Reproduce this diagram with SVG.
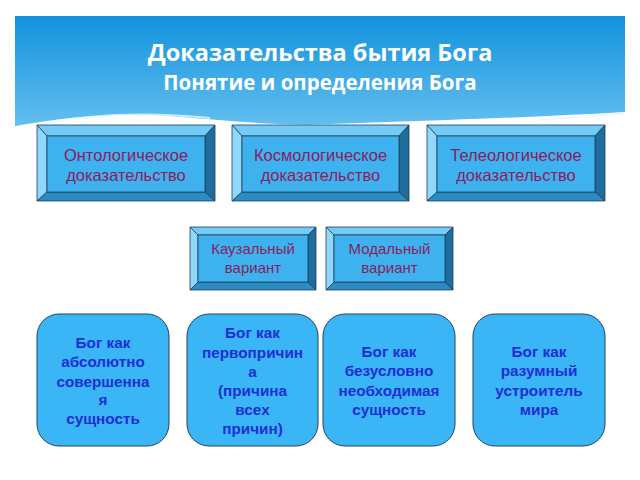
<svg xmlns="http://www.w3.org/2000/svg" width="640" height="480" viewBox="0 0 640 480">
<defs>
<linearGradient id="hdr" x1="0" y1="0" x2="0" y2="1">
<stop offset="0" stop-color="#1292dc"/>
<stop offset="1" stop-color="#66c0f0"/>
</linearGradient>
<style>
.t{fill:#74cbf5;stroke:#1c3f5e;stroke-width:0.8}
.l{fill:#8fd7fb;stroke:#1c3f5e;stroke-width:0.8}
.r{fill:#1f6d9c;stroke:#1c3f5e;stroke-width:0.8}
.b{fill:#2b8cc3;stroke:#1c3f5e;stroke-width:0.8}
.f{fill:#3eb2ee;stroke:#1c3f5e;stroke-width:0.8}
.bt{font-family:"Liberation Sans",Arial,sans-serif;font-size:16.5px;fill:#8a1d5e;text-anchor:middle}
.st{font-size:15px}
.rb{fill:#3ab5f5;stroke:#23425f;stroke-width:1}
.rt{font-family:"Liberation Sans",Arial,sans-serif;font-size:15.3px;font-weight:bold;fill:#1e2fd6;text-anchor:middle}
.hd{font-family:"Open Sans","Noto Sans",sans-serif;font-weight:bold;fill:#ffffff;text-anchor:middle}
.cn{stroke:#ffffff;stroke-width:1.2;fill:none}
</style>
</defs>
<rect width="640" height="480" fill="#ffffff"/>
<g id="header">
<rect x="15" y="16" width="610" height="114" fill="url(#hdr)"/>
<path d="M15,130 L15,126 C60,118 110,112 170,116 C220,120 270,126 330,124 C420,121 520,118 625,112 L625,130 Z" fill="#ffffff"/>
<path d="M40,124 C90,114 150,112 210,118" stroke="#e8f6fd" stroke-width="2" fill="none" opacity="0.8"/>
<path d="M540,120 C570,117 600,115 625,113" stroke="#e8f6fd" stroke-width="2" fill="none" opacity="0.8"/>
<text class="hd" x="320" y="61" font-size="23.5">Доказательства бытия Бога</text>
<text class="hd" x="320" y="90" font-size="20.5">Понятие и определения Бога</text>
</g>
<g id="connectors">
<line class="cn" x1="103" y1="201" x2="103" y2="314"/>
<line class="cn" x1="253" y1="290" x2="253" y2="314"/>
<line class="cn" x1="389" y1="290" x2="389" y2="314"/>
<line class="cn" x1="539" y1="201" x2="539" y2="314"/>
</g>
<g id="onto">
<polygon class="t" points="37,125 215,125 205,136 47,136"/>
<polygon class="l" points="37,125 47,136 47,192 37,201"/>
<polygon class="r" points="215,125 215,201 205,192 205,136"/>
<polygon class="b" points="37,201 47,192 205,192 215,201"/>
<rect class="f" x="47" y="136" width="158" height="56"/>
<text class="bt" x="126" y="161">Онтологическое</text>
<text class="bt" x="126" y="181">доказательство</text>
</g>
<g id="cosmo">
<polygon class="t" points="232,125 409,125 399,136 242,136"/>
<polygon class="l" points="232,125 242,136 242,192 232,201"/>
<polygon class="r" points="409,125 409,201 399,192 399,136"/>
<polygon class="b" points="232,201 242,192 399,192 409,201"/>
<rect class="f" x="242" y="136" width="157" height="56"/>
<text class="bt" x="320.5" y="161">Космологическое</text>
<text class="bt" x="320.5" y="181">доказательство</text>
</g>
<g id="teleo">
<polygon class="t" points="427,125 605,125 595,136 437,136"/>
<polygon class="l" points="427,125 437,136 437,192 427,201"/>
<polygon class="r" points="605,125 605,201 595,192 595,136"/>
<polygon class="b" points="427,201 437,192 595,192 605,201"/>
<rect class="f" x="437" y="136" width="158" height="56"/>
<text class="bt" x="516" y="161">Телеологическое</text>
<text class="bt" x="516" y="181">доказательство</text>
</g>
<g id="causal">
<polygon class="t" points="190,227 316,227 308,235 198,235"/>
<polygon class="l" points="190,227 198,235 198,282 190,290"/>
<polygon class="r" points="316,227 316,290 308,282 308,235"/>
<polygon class="b" points="190,290 198,282 308,282 316,290"/>
<rect class="f" x="198" y="235" width="110" height="47"/>
<text class="bt st" x="253" y="254">Каузальный</text>
<text class="bt st" x="253" y="273">вариант</text>
</g>
<g id="modal">
<polygon class="t" points="326,227 453,227 445,235 334,235"/>
<polygon class="l" points="326,227 334,235 334,282 326,290"/>
<polygon class="r" points="453,227 453,290 445,282 445,235"/>
<polygon class="b" points="326,290 334,282 445,282 453,290"/>
<rect class="f" x="334" y="235" width="111" height="47"/>
<text class="bt st" x="389.5" y="254">Модальный</text>
<text class="bt st" x="389.5" y="273">вариант</text>
</g>
<g id="box1">
<rect class="rb" x="37" y="314" width="132" height="132" rx="22"/>
<text class="rt" x="103" y="348">Бог как</text>
<text class="rt" x="103" y="367">абсолютно</text>
<text class="rt" x="103" y="387">совершенна</text>
<text class="rt" x="103" y="405">я</text>
<text class="rt" x="103" y="424">сущность</text>
</g>
<g id="box2">
<rect class="rb" x="187" y="314" width="131" height="132" rx="22"/>
<text class="rt" x="252.5" y="338">Бог как</text>
<text class="rt" x="252.5" y="358">первопричин</text>
<text class="rt" x="252.5" y="377">а</text>
<text class="rt" x="252.5" y="396">(причина</text>
<text class="rt" x="252.5" y="415">всех</text>
<text class="rt" x="252.5" y="434">причин)</text>
</g>
<g id="box3">
<rect class="rb" x="323" y="314" width="132" height="132" rx="22"/>
<text class="rt" x="389" y="357">Бог как</text>
<text class="rt" x="389" y="376">безусловно</text>
<text class="rt" x="389" y="396">необходимая</text>
<text class="rt" x="389" y="415">сущность</text>
</g>
<g id="box4">
<rect class="rb" x="473" y="314" width="132" height="132" rx="22"/>
<text class="rt" x="539" y="357">Бог как</text>
<text class="rt" x="539" y="376">разумный</text>
<text class="rt" x="539" y="396">устроитель</text>
<text class="rt" x="539" y="415">мира</text>
</g>
</svg>
